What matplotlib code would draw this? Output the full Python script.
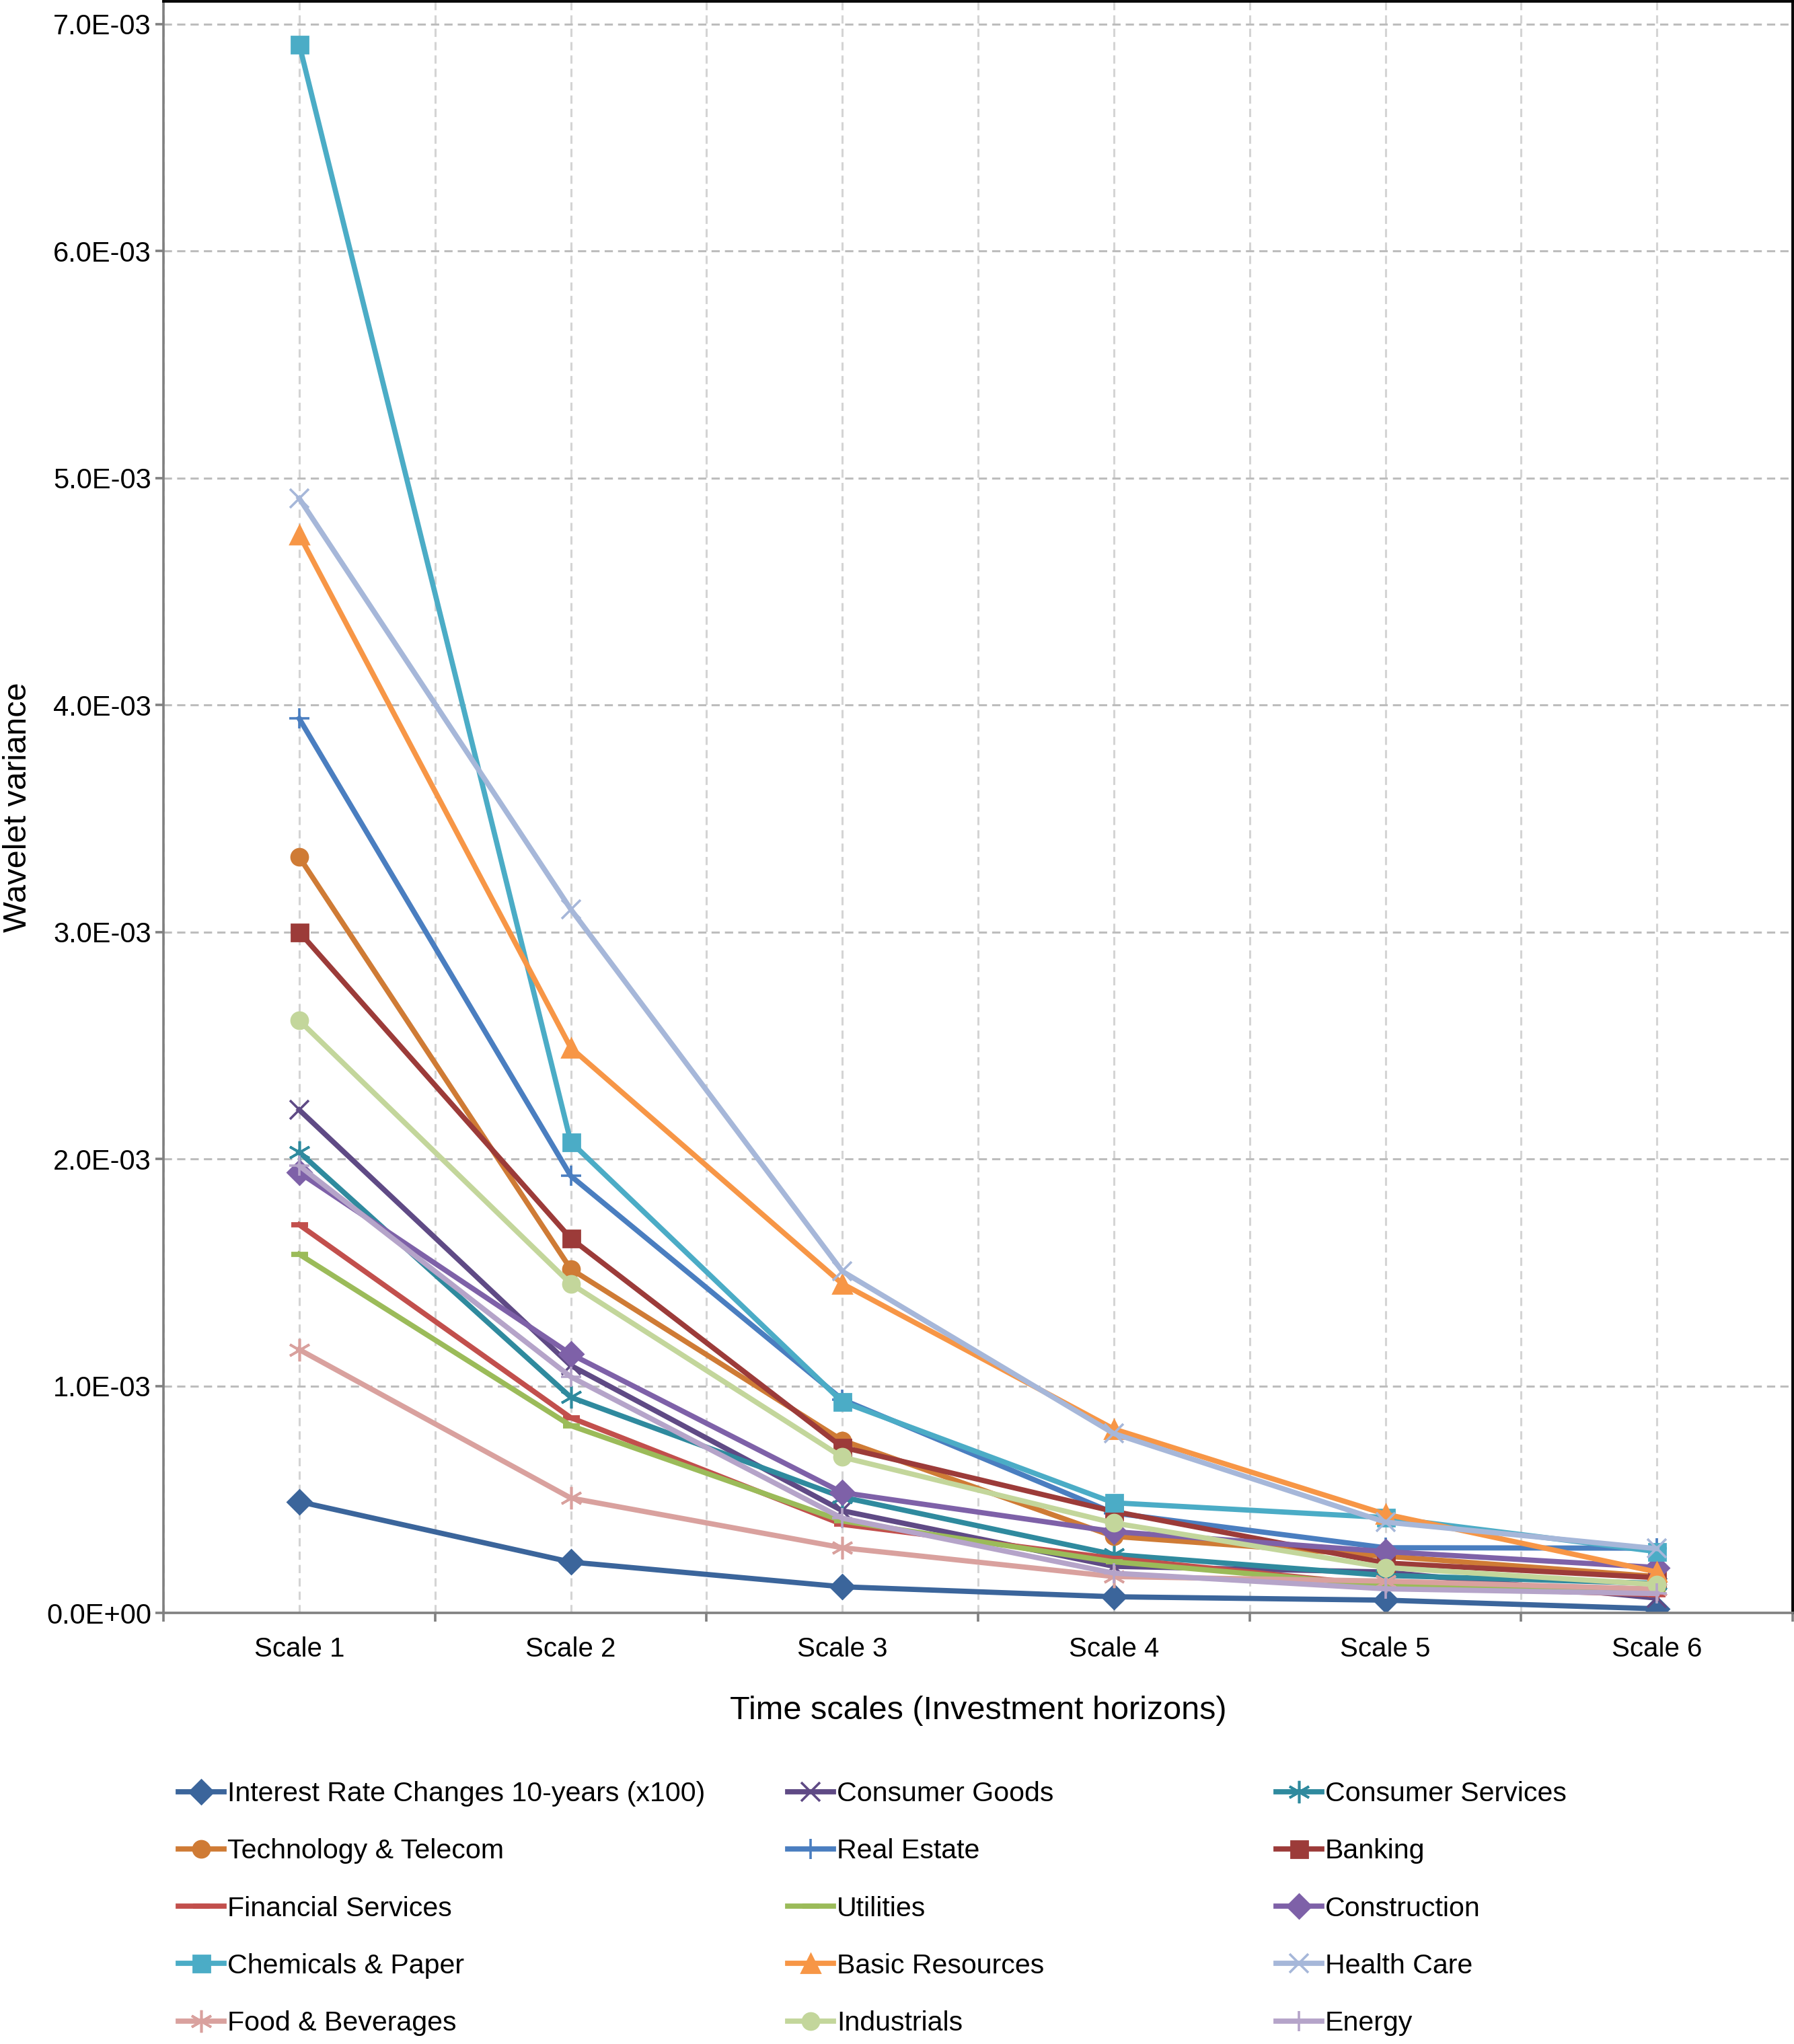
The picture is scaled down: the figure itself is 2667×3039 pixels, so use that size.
import matplotlib
matplotlib.use('Agg')
import matplotlib.pyplot as plt
from matplotlib.ticker import FuncFormatter, FixedLocator
import numpy as np

plt.rcParams['font.family'] = ['Liberation Sans', 'DejaVu Sans']

# ---------------- data (values in units of 1E-03) ----------------
scales = ['Scale 1', 'Scale 2', 'Scale 3', 'Scale 4', 'Scale 5', 'Scale 6']

series_names = [
    'Interest Rate Changes 10-years (x100)', 'Consumer Goods', 'Consumer Services',
    'Technology & Telecom', 'Real Estate', 'Banking',
    'Financial Services', 'Utilities', 'Construction',
    'Chemicals & Paper', 'Basic Resources', 'Health Care',
    'Food & Beverages', 'Industrials', 'Energy',
]

interest = [0.49, 0.224, 0.115, 0.071, 0.056, 0.018]
consumer_goods = [2.216, 1.09, 0.45, 0.205, 0.18, 0.065]
consumer_services = [2.03, 0.95, 0.51, 0.257, 0.165, 0.13]
technology = [3.33, 1.515, 0.76, 0.337, 0.25, 0.16]
real_estate = [3.94, 1.925, 0.94, 0.44, 0.287, 0.285]
banking = [3.0, 1.65, 0.73, 0.447, 0.22, 0.155]
financial = [1.71, 0.86, 0.39, 0.24, 0.12, 0.08]
utilities = [1.58, 0.825, 0.405, 0.225, 0.12, 0.10]
construction = [1.94, 1.14, 0.53, 0.358, 0.27, 0.20]
chemicals = [6.91, 2.075, 0.93, 0.485, 0.42, 0.27]
basic_resources = [4.75, 2.49, 1.45, 0.81, 0.435, 0.18]
health_care = [4.91, 3.10, 1.505, 0.79, 0.40, 0.283]
food = [1.16, 0.506, 0.287, 0.16, 0.14, 0.105]
industrials = [2.61, 1.45, 0.686, 0.396, 0.20, 0.125]
energy = [1.97, 1.04, 0.417, 0.175, 0.106, 0.085]

values = [interest, consumer_goods, consumer_services, technology, real_estate,
          banking, financial, utilities, construction, chemicals,
          basic_resources, health_care, food, industrials, energy]

colors = ['#3B659B', '#5F4A85', '#2F8A9E', '#CF7B35', '#4A7EC0',
          '#9C3B39', '#C24F4C', '#9BBB59', '#7E61A8', '#4BACC6',
          '#F79646', '#A6B7D9', '#D9A19E', '#C3D69B', '#B5A4C9']
ASTER = (6, 2, 0)
markers = ['D', 'x', ASTER, 'o', '+', 's', '_', '_', 'D', 's', '^', 'x', ASTER, 'o', '+']
msizes = [9, 10, 12, 9, 11, 9, 9, 9, 9, 9, 10, 10, 12, 9, 11]
mews = [1, 1.3, 1.3, 1, 1.3, 1, 2.8, 2.8, 1, 1, 1, 1.3, 1.3, 1, 1.3]

# ---------------- figure ----------------
W, H, DPI = 2667, 3039, 200
fig = plt.figure(figsize=(W / DPI, H / DPI), dpi=DPI)
ax = fig.add_axes([243 / W, 1 - 2398 / H, (2665 - 243) / W, (2398 - 2) / H])

x = np.arange(len(scales))
lines = []
for name, vals, c, m, ms, mew in zip(series_names, values, colors, markers, msizes, mews):
    ln, = ax.plot(x, np.array(vals) * 1e-3, color=c, lw=2.8, marker=m, ms=ms,
                  mfc=c, mec=c, mew=mew, label=name, solid_joinstyle='round')
    lines.append(ln)

ax.set_xlim(-0.5, len(scales) - 0.5)
ax.set_ylim(0, 7.1e-3)

ax.set_xticks(x)
ax.set_xticklabels(scales)
ax.xaxis.set_minor_locator(FixedLocator(np.arange(-0.5, len(scales), 1.0)))
ax.set_yticks(np.arange(0, 7.01e-3, 1e-3))
ax.yaxis.set_major_formatter(FuncFormatter(lambda v, p: '%.1E' % v))

ax.tick_params(axis='x', which='major', length=0, pad=12.5, labelsize=14.5, colors='black')
ax.tick_params(axis='x', which='minor', length=4.5, width=1.3, color='#808080', direction='out')
ax.tick_params(axis='y', which='major', length=4.5, width=1.3, color='#808080',
               labelcolor='black', labelsize=15, pad=2)

ax.set_axisbelow(True)
ax.grid(True, axis='y', which='major', color='#BDBDBD', lw=1.1, ls=(0, (4, 2.5)))
ax.grid(True, axis='x', which='major', color='#D4D4D4', lw=1.1, ls=(0, (4, 2.5)))
ax.grid(True, axis='x', which='minor', color='#D4D4D4', lw=1.1, ls=(0, (4, 2.5)))

for s in ['left', 'bottom']:
    ax.spines[s].set_color('#808080')
    ax.spines[s].set_linewidth(1.3)
for s in ['top', 'right']:
    ax.spines[s].set_color('black')
    ax.spines[s].set_linewidth(1.4)

ax.set_xlabel('Time scales (Investment horizons)', fontsize=17.5)
ax.xaxis.set_label_coords(0.5, -(2543 - 2398) / 2396)
ax.xaxis.label.set_verticalalignment('center')
ax.set_ylabel('Wavelet variance', fontsize=17.5)
ax.yaxis.set_label_coords((27 - 243) / 2422, 0.5)
ax.yaxis.label.set_verticalalignment('center')

# ---------------- legend: three columns, row-major order ----------------
col_x = [265 / W, 1171 / W, 1897 / W]
top_y = 1 - 2648 / H
for ci in range(3):
    hs = [lines[i] for i in range(ci, len(lines), 3)]
    fig.legend(handles=hs, loc='upper left', bbox_to_anchor=(col_x[ci], top_y),
               bbox_transform=fig.transFigure, frameon=False, fontsize=14.8,
               handlelength=1.65, handletextpad=0.12, labelspacing=1.15,
               borderpad=0, borderaxespad=0, numpoints=1)

fig.savefig('out.png', dpi=DPI)
